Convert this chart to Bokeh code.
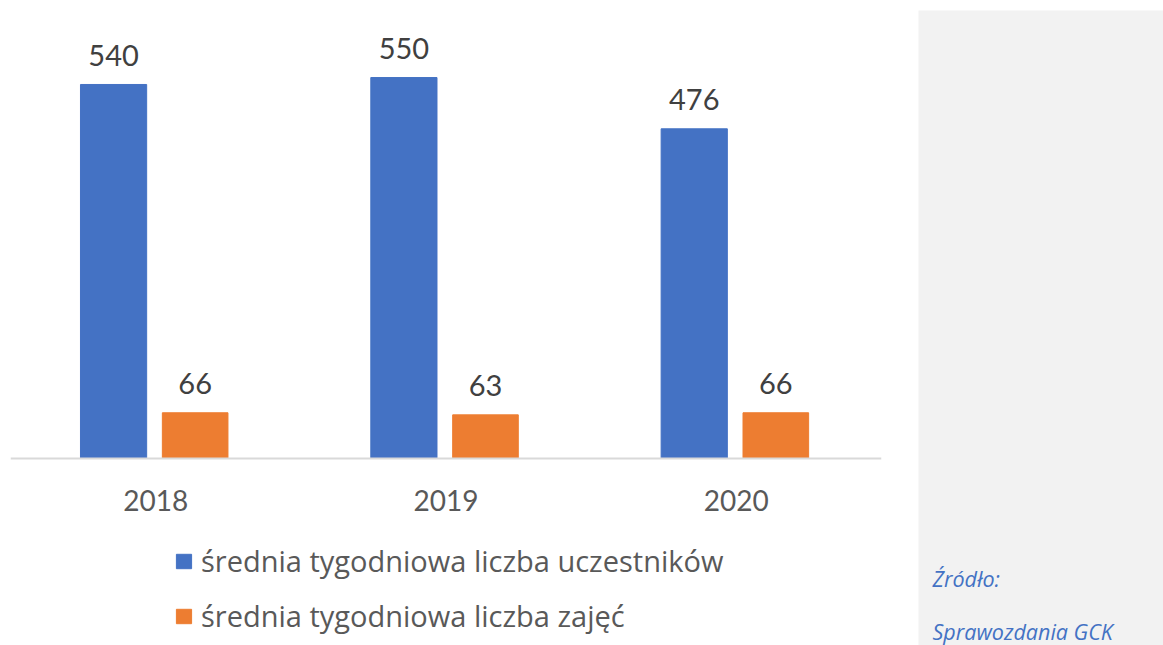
from bokeh.plotting import figure
from bokeh.models import ColumnDataSource, FactorRange, Range1d, Legend, LegendItem
from bokeh.transform import dodge
from bokeh.layouts import row
from bokeh.embed import file_html
from bokeh.resources import INLINE
from bokeh.core.properties import value

# ---- data ----
years = ["2018", "2019", "2020"]
participants = [540, 550, 476]
classes = [66, 63, 66]
series_names = ["średnia tygodniowa liczba uczestników", "średnia tygodniowa liczba zajęć"]
source_title = "Źródło:"
source_name = "Sprawozdania GCK"

BLUE = "#4472C4"
ORANGE = "#ED7D31"
FONT = "Lato"

src = ColumnDataSource(dict(
    year=years,
    participants=participants,
    classes=classes,
    p_lbl=[str(v) for v in participants],
    c_lbl=[str(v) for v in classes],
))

p = figure(
    x_range=FactorRange(factors=years, range_padding=0),
    y_range=Range1d(-270.0, 646.8),
    width=918, height=645,
    output_backend="svg", toolbar_location=None,
    y_axis_location=None,
    min_border_left=10, min_border_right=37, min_border_top=10, min_border_bottom=0,
)
p.outline_line_color = None
p.xgrid.visible = False
p.ygrid.visible = False

b1 = p.vbar(x=dodge("year", -0.145, range=p.x_range), top="participants", bottom=0, width=0.228,
            source=src, fill_color=BLUE, line_color=BLUE)
b2 = p.vbar(x=dodge("year", 0.136, range=p.x_range), top="classes", bottom=0, width=0.226,
            source=src, fill_color=ORANGE, line_color=ORANGE)

p.text(x=dodge("year", -0.145, range=p.x_range), y="participants", text="p_lbl", source=src,
       text_align="center", text_baseline="middle", y_offset=-29,
       text_font=value(FONT), text_font_size="29px", text_color="#404040")
p.text(x=dodge("year", 0.136, range=p.x_range), y="classes", text="c_lbl", source=src,
       text_align="center", text_baseline="middle", y_offset=-29,
       text_font=value(FONT), text_font_size="29px", text_color="#404040")

ax = p.xaxis[0]
ax.fixed_location = 0
ax.axis_line_color = "#D9D9D9"
ax.axis_line_width = 2
ax.major_tick_line_color = None
ax.minor_tick_line_color = None
ax.major_label_text_font = FONT
ax.major_label_text_font_size = "28px"
ax.major_label_text_color = "#595959"
ax.major_label_standoff = 26

legend = Legend(
    items=[LegendItem(label=series_names[0], renderers=[b1]),
           LegendItem(label=series_names[1], renderers=[b2])],
    location=(164, 10), orientation="vertical",
    glyph_width=19, glyph_height=18, label_standoff=8,
    label_height=30, spacing=16, padding=0, margin=0,
    border_line_color=None, background_fill_alpha=0,
    label_text_font="Open Sans", label_text_font_size="29px", label_text_color="#595959",
)
p.add_layout(legend, "center")

q = figure(
    width=245, height=645,
    x_range=Range1d(0, 245), y_range=Range1d(635, 0),
    output_backend="svg", toolbar_location=None,
    x_axis_location=None, y_axis_location=None,
    min_border_top=10, min_border_left=0, min_border_right=0, min_border_bottom=0,
    background_fill_color="#F2F2F2",
)
q.outline_line_color = None
q.xgrid.visible = False
q.ygrid.visible = False
q.text(x=[14, 14], y=[568, 621], text=[source_title, source_name],
       text_font=value("Open Sans"), text_font_style="italic", text_font_size="21.5px",
       text_color=BLUE, text_baseline="middle", text_align="left")

layout = row(p, q, spacing=0)
open("out.html", "w").write(file_html(layout, INLINE))
